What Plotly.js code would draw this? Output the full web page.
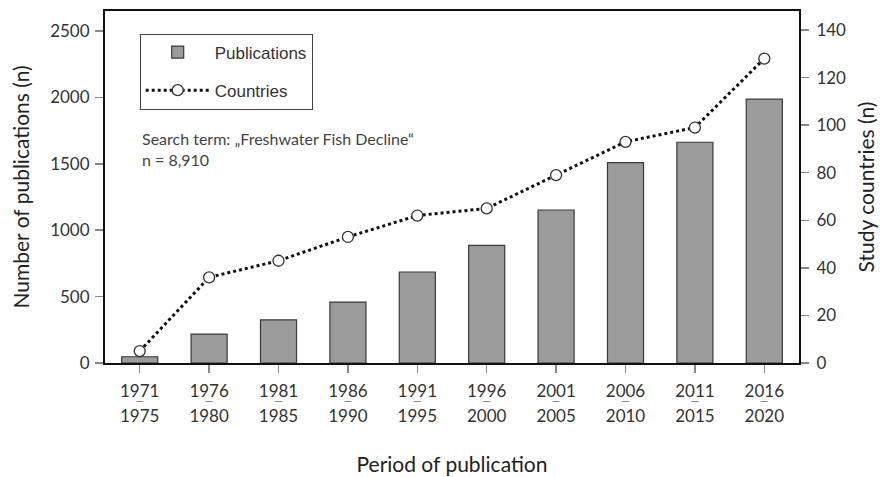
<!DOCTYPE html>
<html>
<head>
<meta charset="utf-8">
<script src="https://cdn.plot.ly/plotly-3.0.1.min.js"></script>
<style>html,body{margin:0;padding:0;background:#fff;}#chart{width:880px;height:477px;}</style>
</head>
<body>
<div id="chart"></div>
<script>
const periods = ["1971–1975","1976–1980","1981–1985","1986–1990","1991–1995","1996–2000","2001–2005","2006–2010","2011–2015","2016–2020"];
const startYears = ["1971","1976","1981","1986","1991","1996","2001","2006","2011","2016"];
const endYears = ["1975","1980","1985","1990","1995","2000","2005","2010","2015","2020"];
const publications = [47, 218, 324, 459, 685, 886, 1152, 1508, 1662, 1986];
const countries = [5, 36, 43, 53, 62, 65, 79, 93, 99, 128];

const idx = periods.map((_, i) => i);
const tickFont = {family: "Lato, 'Open Sans', sans-serif", size: 17, color: "#333"};
const titleFont = {family: "Lato, 'Open Sans', sans-serif", size: 21, color: "#222"};

const traces = [
  {
    type: "bar", name: "Publications", x: periods, y: publications,
    marker: {color: "#9b9b9b", line: {color: "#3a3a3a", width: 1.2}},
    width: 0.52, legendgroup: "a", hoverinfo: "skip"
  },
  {
    type: "scatter", mode: "lines+markers", name: "Countries", x: periods, y: countries,
    yaxis: "y2", legendgroup: "b",
    line: {color: "#111", width: 3, dash: "dot"},
    marker: {symbol: "circle", size: 11, color: "#fff", line: {color: "#333", width: 1.3}},
    hoverinfo: "skip"
  },
  // label-only carriers for the second and third tick-label rows (draw nothing)
  {type: "scatter", mode: "none", x: idx, y: publications, xaxis: "x2", yaxis: "y", showlegend: false, hoverinfo: "skip"},
  {type: "scatter", mode: "none", x: idx, y: publications, xaxis: "x3", yaxis: "y", showlegend: false, hoverinfo: "skip"}
];

const layout = {
  width: 880, height: 477,
  margin: {l: 105, r: 81, t: 11, b: 114},
  paper_bgcolor: "#fff", plot_bgcolor: "#fff",
  showlegend: true,
  legend: {
    x: 0.05, y: 0.936, xanchor: "left", yanchor: "top",
    bordercolor: "#444", borderwidth: 1, bgcolor: "#fff",
    font: {family: "'Liberation Sans', Arial, sans-serif", size: 17, color: "#333"},
    traceorder: "grouped", tracegroupgap: 13, itemwidth: 64
  },
  xaxis: {
    type: "category", range: [-0.5, 9.5],
    tickvals: periods, ticktext: startYears,
    tickfont: tickFont,
    ticks: "outside", ticklen: 8, tickwidth: 1.5, tickcolor: "#888",
    ticklabelstandoff: 4,
    showline: true, linecolor: "#111", linewidth: 2, mirror: true,
    showgrid: false, zeroline: false, fixedrange: true
  },
  xaxis2: {
    overlaying: "x", anchor: "y", side: "bottom", type: "linear", range: [-0.5, 9.5],
    tickvals: idx, ticktext: periods.map(() => "—"),
    tickfont: {family: "'DejaVu Sans', sans-serif", size: 8, color: "#555"},
    ticks: "", ticklabelstandoff: 32,
    showline: false, showgrid: false, zeroline: false
  },
  xaxis3: {
    overlaying: "x", anchor: "y", side: "bottom", type: "linear", range: [-0.5, 9.5],
    tickvals: idx, ticktext: endYears,
    tickfont: tickFont,
    ticks: "", ticklabelstandoff: 41,
    showline: false, showgrid: false, zeroline: false,
    title: {text: "Period of publication", font: titleFont, standoff: 32}
  },
  yaxis: {
    range: [0, 2650], tickvals: [0, 500, 1000, 1500, 2000, 2500],
    tickfont: tickFont,
    ticks: "outside", ticklen: 8, tickwidth: 1.5, tickcolor: "#888",
    ticklabelstandoff: 2,
    showline: true, linecolor: "#111", linewidth: 2,
    showgrid: false, zeroline: false,
    title: {text: "Number of publications (n)", font: titleFont, standoff: 15}
  },
  yaxis2: {
    overlaying: "y", side: "right", range: [0, 148], tickvals: [0, 20, 40, 60, 80, 100, 120, 140],
    tickfont: tickFont,
    ticks: "outside", ticklen: 8, tickwidth: 1.5, tickcolor: "#888",
    ticklabelstandoff: 4,
    showline: true, linecolor: "#111", linewidth: 2,
    showgrid: false, zeroline: false,
    title: {text: "Study countries (n)", font: titleFont, standoff: 14}
  },
  annotations: [
    {
      xref: "paper", yref: "paper", x: 0.05, y: 0.607, xanchor: "left", yanchor: "middle",
      align: "left", showarrow: false,
      text: "Search term: „Freshwater Fish Decline“<br>n = 8,910",
      font: {family: "Lato, 'Open Sans', sans-serif", size: 16, color: "#444"}
    }
  ]
};

Plotly.newPlot("chart", traces, layout, {displayModeBar: false, staticPlot: true});
</script>
</body>
</html>
